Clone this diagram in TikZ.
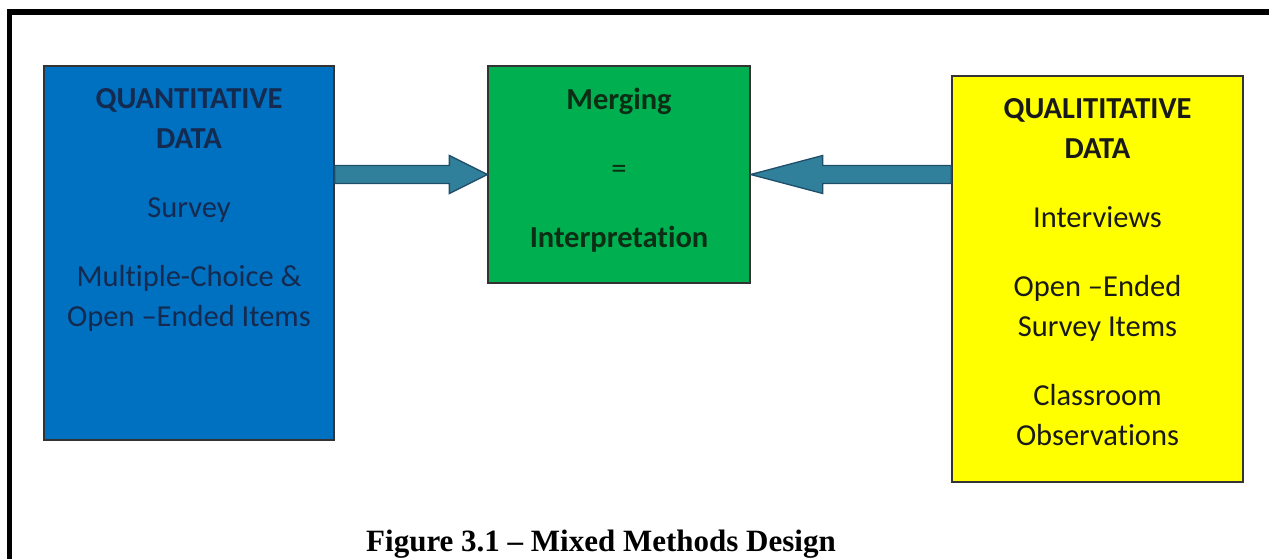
\documentclass[tikz,border=0pt]{standalone}
\usepackage{fontspec}
\setmainfont[Ligatures=NoCommon]{Carlito}
\newfontfamily\capfont{Liberation Serif}
\usetikzlibrary{positioning,calc}

\definecolor{quantblue}{HTML}{0070C0}
\definecolor{mergegreen}{HTML}{00B050}
\definecolor{qualyellow}{HTML}{FFFF00}
\definecolor{arrowteal}{HTML}{31809B}
\definecolor{arrowedge}{HTML}{1F4E69}
\definecolor{navytext}{HTML}{142A4F}
\definecolor{greentext}{HTML}{0B2E14}

\begin{document}
\begin{tikzpicture}[x=1pt, y=-1pt,
      box/.style = {rectangle, draw=black!80, line width=1.3pt, inner sep=0pt},
      boxtext/.style = {align=center, inner sep=0pt,
        font=\fontsize{30.5}{40}\selectfont},
      blockarrow/.style = {fill=arrowteal, draw=arrowedge, line width=1.3pt}]
  \useasboundingbox (0,0) rectangle (1269,559);
  % frame
  \draw[line width=5.5pt] (9.5,559) |- (1269,12);

  \node[box, fill=quantblue, minimum width=290pt, minimum height=374pt] (quant) at (189,253) {};
  \node[box, fill=mergegreen, minimum width=262pt, minimum height=217pt] (merge) at (619,174.5) {};
  \node[box, fill=qualyellow, minimum width=291pt, minimum height=406pt] (qual) at (1097.5,279) {};

  \node[boxtext, text=navytext, below=22.5pt of quant.north] (quanttxt)
    {\textbf{QUANTITATIVE}\\ \textbf{DATA}\\[29pt] Survey\\[29pt]
     Multiple-Choice \&\\ Open –Ended Items};
  \node[boxtext, text=greentext, below=22.5pt of merge.north] (mergetxt)
    {\textbf{Merging}\\[29pt] =\\[29pt] \textbf{Interpretation}};
  \node[boxtext, text=black!90, below=22.5pt of qual.north] (qualtxt)
    {\textbf{QUALITITATIVE}\\ \textbf{DATA}\\[29pt] Interviews\\[29pt]
     Open –Ended\\ Survey Items\\[29pt] Classroom\\ Observations};

  % arrows into the middle box
  \draw[blockarrow] ($(quant.east |- merge.west)+(0,-9)$) -- ($(merge.west)+(-38,-9)$)
    -- ($(merge.west)+(-38,-19)$) -- (merge.west) -- ($(merge.west)+(-38,19)$)
    -- ($(merge.west)+(-38,9)$) -- ($(quant.east |- merge.west)+(0,9)$) -- cycle;
  \draw[blockarrow] ($(qual.west |- merge.east)+(0,-9)$) -- ($(merge.east)+(72,-9)$)
    -- ($(merge.east)+(72,-19)$) -- (merge.east) -- ($(merge.east)+(72,19)$)
    -- ($(merge.east)+(72,9)$) -- ($(qual.west |- merge.east)+(0,9)$) -- cycle;

  \node[font=\capfont\bfseries\fontsize{31}{36}\selectfont, anchor=base] (figcap)
    at (601,551) {Figure 3.1 – Mixed Methods Design};
\end{tikzpicture}
\end{document}
